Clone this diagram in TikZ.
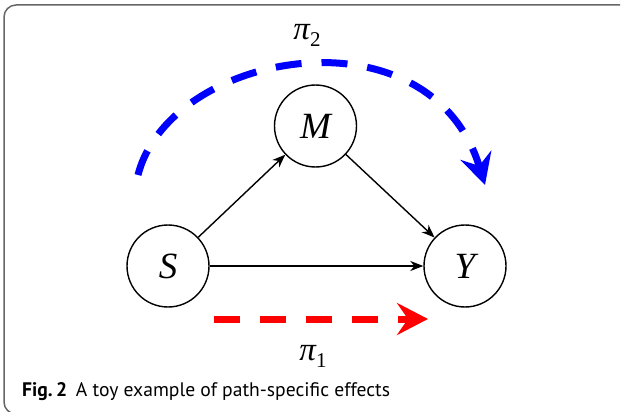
\documentclass[tikz,border=0pt]{standalone}
\usepackage{fontspec}
\newfontfamily\capfont{PT Sans}
\newfontfamily\varfont{Liberation Serif}
\usetikzlibrary{arrows.meta}
\newcommand\pilabel[1]{{\itshape π}\raisebox{-7pt}{\fontsize{21}{21}\selectfont\upshape #1}}
\begin{document}
\begin{tikzpicture}[x=1pt,y=-1pt,
  var/.style={circle,draw,line width=1.4pt,minimum size=82pt,inner sep=0pt,font=\varfont\itshape\fontsize{37}{37}\selectfont},
  link/.style={line width=1.4pt,-{Stealth[length=13pt,width=10pt,inset=4pt]}},
  pathArrow/.style={line width=7pt,dash pattern=on 26pt off 20pt,-{Stealth[length=31pt,width=32pt,inset=11pt]}},
  lab/.style={inner sep=0pt,font=\varfont\fontsize{33}{33}\selectfont},
  frame/.style={draw=black!60,line width=1.5pt,rounded corners=12pt}
]
\useasboundingbox (0,0) rectangle (622,412);
\draw[frame] (620,5) -- (4,5) -- (4,414) -- (40,414);
\node[var] (S) at (168,266) {S};
\node[var] (M) at (315.5,126) {M};
\node[var] (Y) at (465,266) {Y};
\draw[link] (S) -- (M);
\draw[link] (M) -- (Y);
\draw[link] (S) -- (Y);
\coordinate (r0) at (214,319);
\coordinate (r1) at (428,319);
\draw[pathArrow,red] (r0) -- (r1);
\coordinate (b0) at (138,175);
\coordinate (b1) at (485,185);
\draw[pathArrow,blue] (b0) .. controls (170,50) and (430,5) .. (b1);
\node[lab] (p2) at (307,35) {\pilabel{2}};
\node[lab] (p1) at (313,356) {\pilabel{1}};
\node[anchor=base west,inner sep=0pt,font=\capfont\fontsize{19.6}{20}\selectfont] (cap) at (22,396) {\textbf{Fig.\,2}\hspace{0.45em}A toy example of path-specific effects};
\end{tikzpicture}
\end{document}
